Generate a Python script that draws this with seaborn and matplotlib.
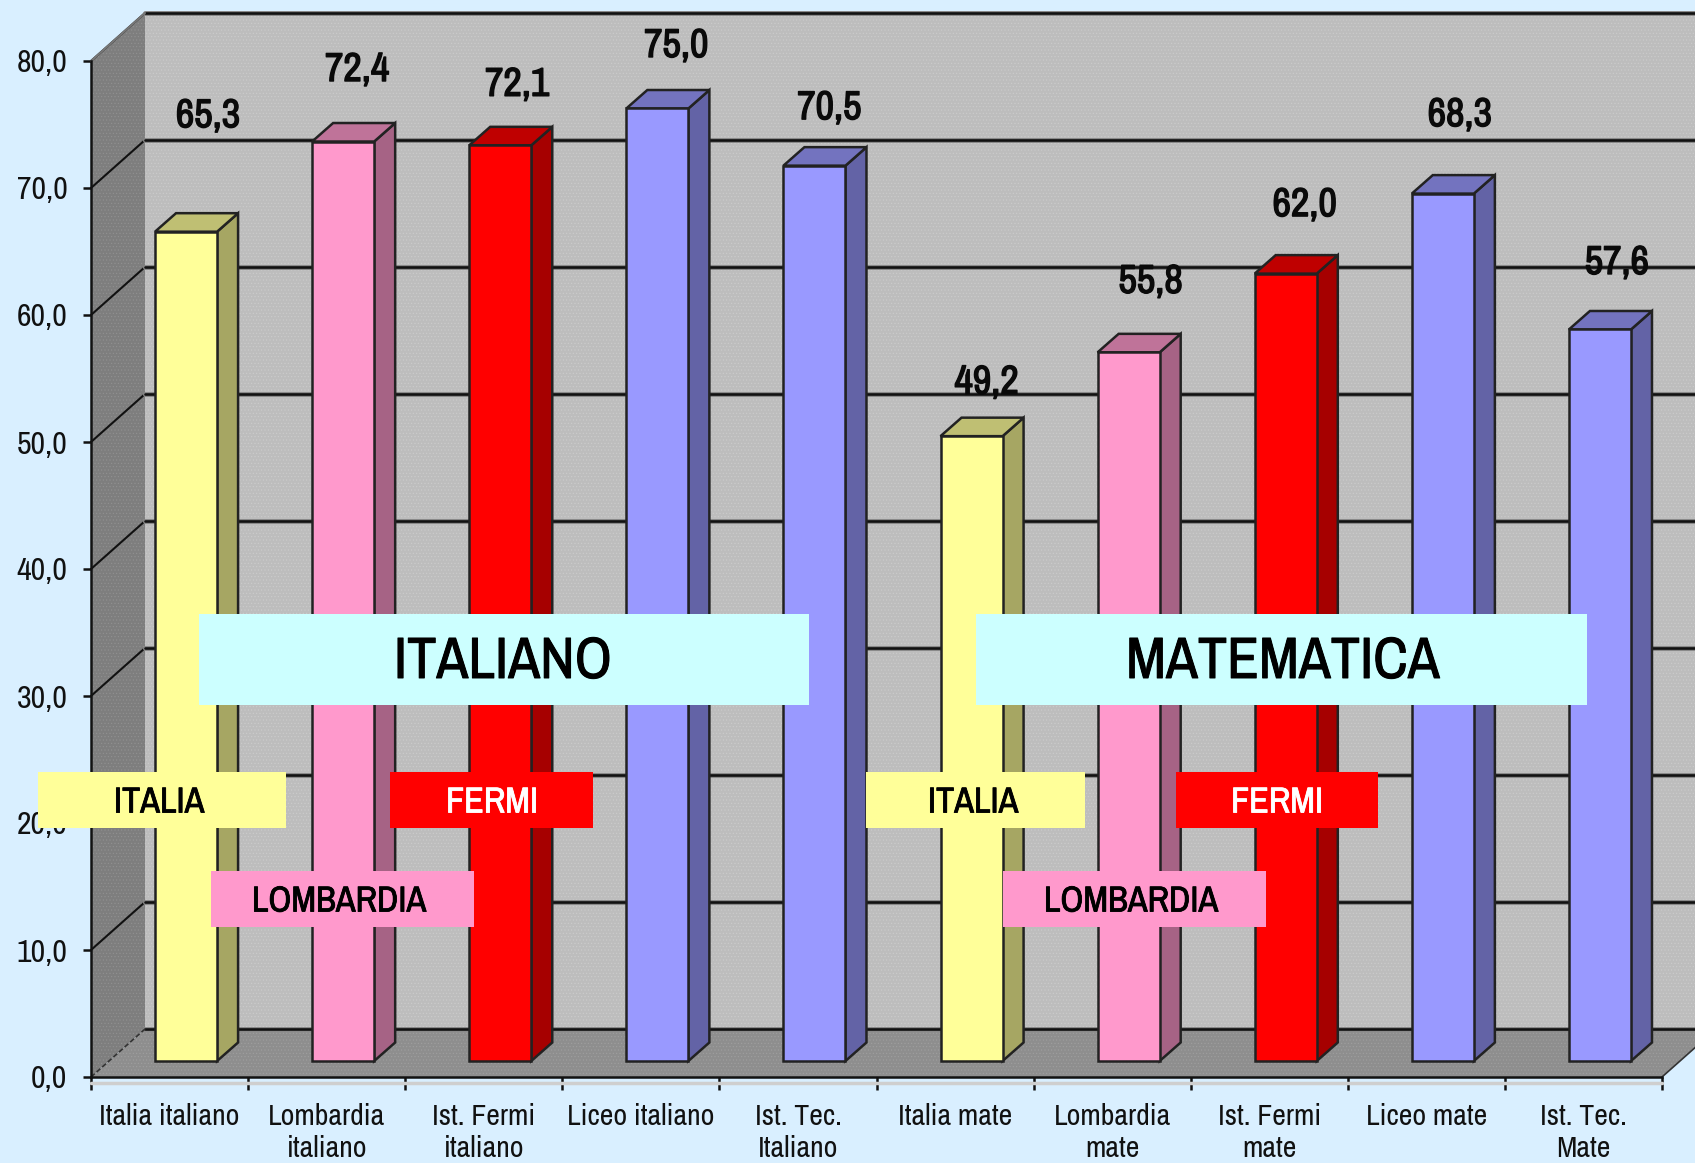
import matplotlib
matplotlib.use("Agg")
import matplotlib.pyplot as plt
import matplotlib.patheffects as pe
from matplotlib.patches import Polygon, Rectangle
from matplotlib.colors import to_rgb
import pandas as pd
import seaborn as sns

categories = ["Italia italiano", "Lombardia\nitaliano", "Ist. Fermi\nitaliano", "Liceo italiano",
              "Ist. Tec.\nItaliano", "Italia mate", "Lombardia\nmate", "Ist. Fermi\nmate",
              "Liceo mate", "Ist. Tec.\nMate"]
values = [65.3, 72.4, 72.1, 75.0, 70.5, 49.2, 55.8, 62.0, 68.3, 57.6]
y_ticks = [0, 10, 20, 30, 40, 50, 60, 70, 80]

YELLOW, PINK, RED, BLUE = "#FFFF99", "#FF99CC", "#FF0000", "#9999FF"
bar_colors = [YELLOW, PINK, RED, BLUE, BLUE, YELLOW, PINK, RED, BLUE, BLUE]

# offsets (pixels) of each value label from the top of its bar
label_dx = [22, 14, 17, 19, 15, 15, 22, 19, 17, 17]
label_dy = [116, 72, 61, 63, 58, 54, 71, 69, 79, 67]

W, H = 1695, 1163
BG = "#D9EFFF"
NARROW = ["Archivo Narrow", "PT Sans Narrow", "Liberation Sans", "DejaVu Sans"]

sns.set_style("white")
plt.rcParams["font.family"] = NARROW
plt.rcParams["hatch.linewidth"] = 0.4

# chart depth, in data units (one category = 157 px, one y unit = 12.7 px)
DX, DY = 54 / 157.1, 48 / 12.7
BX, BY = 16.5 / 157.1, 16 / 12.7
BAR_DX, BAR_DY = 21 / 157.1, 18.5 / 12.7


def shade(color, f):
    return tuple(c * f for c in to_rgb(color))


def thicken(text, width):
    # the narrow font has no bold cut, so thicken the strokes
    text.set_path_effects([pe.withStroke(linewidth=width, foreground=text.get_color())])


fig = plt.figure(figsize=(W / 100, H / 100), dpi=100, facecolor=BG)
ax = fig.add_axes([91 / W, (H - 1077) / H, (1662 - 91) / W, (1077 - 61) / H], facecolor="none")

df = pd.DataFrame({"cat": categories, "val": values})
sns.barplot(data=df, x="cat", y="val", hue="cat", palette=bar_colors, legend=False, width=0.395,
            saturation=1, edgecolor="#222222", linewidth=1.8, ax=ax, zorder=5)
bars = list(ax.patches)

ax.set_xlim(-0.5, 9.5)
ax.set_ylim(0, 80)
ax.set_xlabel("")
ax.set_ylabel("")

# back wall, side wall and floor
x0, x1 = -0.5, 9.5
ax.add_patch(Polygon([(x0 + DX, DY), (x1 + DX, DY), (x1 + DX, 80 + DY), (x0 + DX, 80 + DY)],
                     facecolor="#BDBDBD", edgecolor="#CDCDCD", hatch=".....", lw=0, clip_on=False, zorder=1))
ax.add_patch(Polygon([(x0, 0), (x0 + DX, DY), (x0 + DX, 80 + DY), (x0, 80)],
                     facecolor="#7E7E7E", edgecolor="#929292", hatch=".....", lw=0, clip_on=False, zorder=1))
ax.add_patch(Polygon([(x0, 0), (x1, 0), (x1 + DX, DY), (x0 + DX, DY)],
                     facecolor="#8E8E8E", edgecolor="#A0A0A0", hatch=".....", lw=0, clip_on=False, zorder=1))

for v in y_ticks:
    if v > 0:
        ax.plot([x0, x0 + DX], [v, v + DY], color="#111111", lw=1.5, clip_on=False, zorder=2)
    ax.plot([x0 + DX, x1 + DX], [v + DY, v + DY], color="#8A8A8A", lw=3.6, clip_on=False, zorder=2)
    ax.plot([x0 + DX, x1 + DX], [v + DY, v + DY], color="#111111", lw=1.9, clip_on=False, zorder=2)
ax.plot([x0, x0 + DX], [0, DY], color="#333333", lw=1.2, ls=(0, (3, 1.5)), clip_on=False, zorder=2)
ax.plot([x1, x1 + DX], [0, DY], color="#333333", lw=1.2, clip_on=False, zorder=2)
ax.plot([x0, x0 + DX], [80, 80 + DY], color="#777777", lw=1.5, clip_on=False, zorder=2)
ax.plot([x0, x1], [-0.45, -0.45], color="#CFCFCF", lw=2.5, clip_on=False, zorder=2)

# bars: move them into the depth and add the side and top faces
for bar, v, col in zip(bars, values, bar_colors):
    bar.set_x(bar.get_x() + BX)
    bar.set_y(BY)
    left = bar.get_x()
    right = left + bar.get_width()
    top = BY + v
    ax.add_patch(Polygon([(right, BY), (right + BAR_DX, BY + BAR_DY), (right + BAR_DX, top + BAR_DY), (right, top)],
                         facecolor=shade(col, 0.65), edgecolor="#222222", lw=1.8, zorder=4, clip_on=False))
    ax.add_patch(Polygon([(left, top), (right, top), (right + BAR_DX, top + BAR_DY), (left + BAR_DX, top + BAR_DY)],
                         facecolor=shade(col, 0.75), edgecolor="#222222", lw=1.8, zorder=4, clip_on=False))

for i, v in enumerate(values):
    lab = ax.annotate(f"{v:.1f}".replace(".", ","), xy=(i + BX, v + BY), xytext=(label_dx[i], label_dy[i]),
                      textcoords="offset pixels", ha="center", va="center", fontsize=29,
                      color="#0A0A0A", annotation_clip=False, zorder=7)
    thicken(lab, 1.0)

# axes, ticks
for side in ["top", "right"]:
    ax.spines[side].set_visible(False)
for side in ["left", "bottom"]:
    ax.spines[side].set_color("#111111")
    ax.spines[side].set_linewidth(1.8)
    ax.spines[side].set_zorder(6)
ax.set_yticks(y_ticks)
ax.set_yticklabels([f"{v:.1f}".replace(".", ",") for v in y_ticks], fontsize=23, color="#111111")
ax.set_xticks(range(len(categories)))
ax.set_xticklabels(categories, fontsize=21.5, color="#111111", linespacing=1.22)
ax.set_xticks([x0 + i for i in range(len(categories) + 1)], minor=True)
ax.tick_params(axis="x", which="major", length=0, pad=19)
ax.tick_params(axis="x", which="minor", length=9, width=1.8, color="#111111", bottom=True)
ax.tick_params(axis="y", length=6, width=1.8, color="#111111", left=True, pad=11)

# text boxes laid over the chart, in pixel coordinates of the picture
over = fig.add_axes([0, 0, 1, 1], facecolor="none", zorder=10)
over.set_xlim(0, W)
over.set_ylim(H, 0)
over.axis("off")


def box(x0, x1, y0, y1, color, text, tx, fs, width, txt_color="black"):
    over.add_patch(Rectangle((x0, y0), x1 - x0, y1 - y0, facecolor=color, edgecolor="none"))
    t = over.text(tx, (y0 + y1) / 2 + 2, text, ha="center", va="center", fontsize=fs, color=txt_color)
    thicken(t, width)


box(199, 809, 614, 705, "#CCFFFF", "ITALIANO", 503, 42, 0.7)
box(976, 1587, 614, 705, "#CCFFFF", "MATEMATICA", 1283, 42, 0.7)
box(38, 286, 772, 828, YELLOW, "ITALIA", 159, 26, 0.6)
box(866, 1085, 772, 828, YELLOW, "ITALIA", 973, 26, 0.6)
box(390, 593, 772, 828, RED, "FERMI", 492, 26, 0.6, "white")
box(1176, 1378, 772, 828, RED, "FERMI", 1277, 26, 0.6, "white")
box(211, 474, 871, 927, PINK, "LOMBARDIA", 339, 26, 0.6)
box(1003, 1266, 871, 927, PINK, "LOMBARDIA", 1131, 26, 0.6)

fig.savefig("out.png", dpi=100, facecolor=BG)
plt.close(fig)
